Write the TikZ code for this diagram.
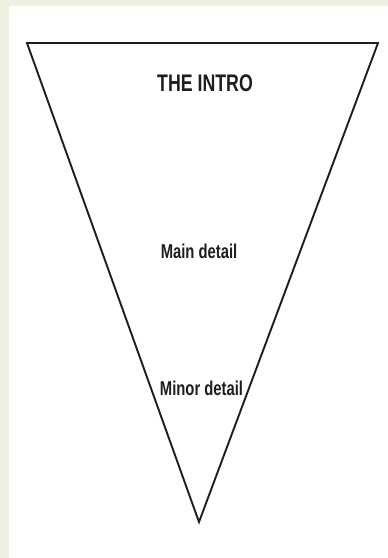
\documentclass[tikz,border=0pt]{standalone}
\usepackage{fontspec}
\setmainfont{Liberation Sans}
\usepackage{xcolor}
\definecolor{pagegreen}{HTML}{EDF1DF}
\definecolor{inkgray}{HTML}{1E1E1E}

\tikzset{
  label/.style={font=\bfseries\fontsize{20}{21}\selectfont, text=inkgray, transform shape, xscale=0.74, inner sep=0pt},
  side/.style={draw=inkgray, line width=1.9pt, line cap=round}
}

\begin{document}
\begin{tikzpicture}[x=1pt,y=-1pt]
\useasboundingbox (0,0) rectangle (388,558);
\fill[pagegreen] (0,0) rectangle (388,558);
\fill[white] (9,6) rectangle (388,558);
\coordinate (tl) at (27,43);
\coordinate (tr) at (378,43);
\coordinate (apex) at (199,522);
\draw[side, line width=2.8pt] (tl) -- (tr);
\draw[side, line join=miter] (tr) -- (apex) -- (tl);
\node[label, font=\bfseries\fontsize{24}{25}\selectfont] (intro) at (205,83) {THE INTRO};
\node[label] (main) at (199,251) {Main detail};
\node[label] (minor) at (201.5,388) {Minor detail};
\end{tikzpicture}
\end{document}
